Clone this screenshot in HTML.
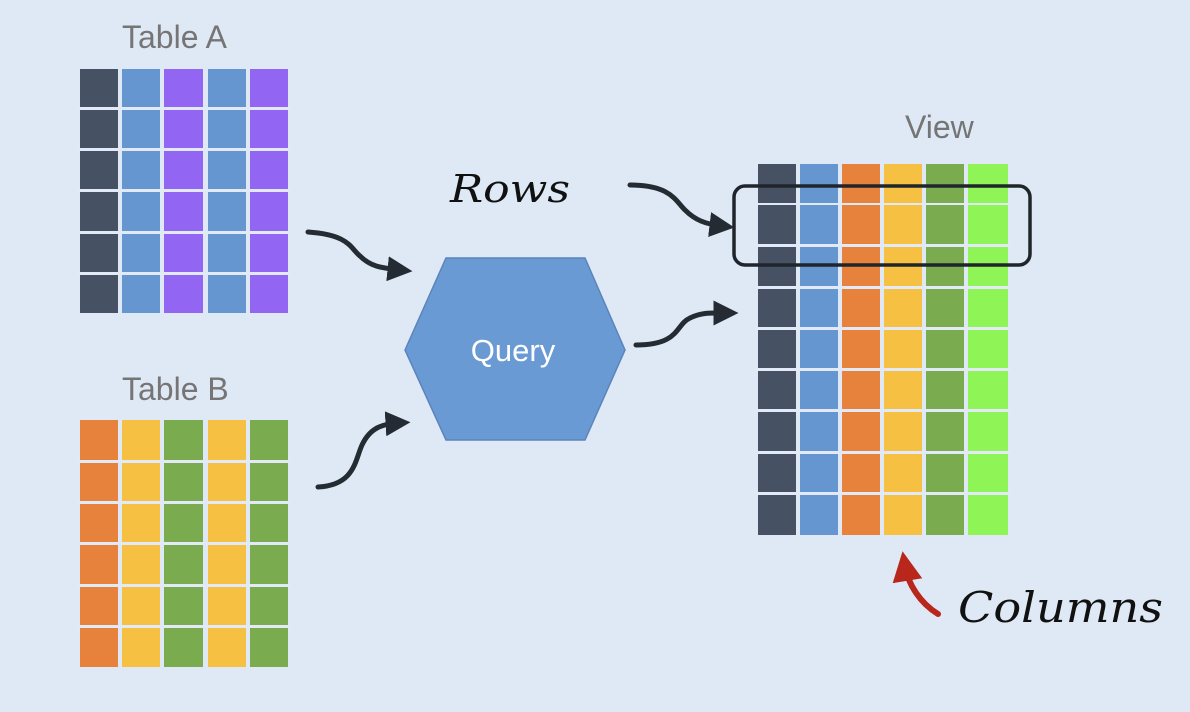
<!DOCTYPE html>
<html><head><meta charset="utf-8"><style>
html,body{margin:0;padding:0;background:#dfe9f5;}
svg{display:block}
</style></head><body>
<svg width="1190" height="712" viewBox="0 0 1190 712" xmlns="http://www.w3.org/2000/svg">
<rect width="1190" height="712" fill="#dfe9f5"/>
<defs>
<marker id="ah" markerWidth="5" markerHeight="5" refX="2.5" refY="2.5" orient="auto" markerUnits="strokeWidth">
<path d="M0,0 L5,2.5 L0,5 z" fill="#252b33"/></marker>
<marker id="ahr" markerWidth="5" markerHeight="5" refX="2.5" refY="2.5" orient="auto" markerUnits="strokeWidth">
<path d="M0,0 L5,2.5 L0,5 z" fill="#b8261c"/></marker>
</defs>
<g font-family="Liberation Sans, sans-serif" fill="#757575" font-size="32">
<text x="122" y="48">Table A</text>
<text x="122" y="400">Table B</text>
<text x="905" y="138">View</text>
</g>
<!-- Table A -->
<g>
<rect x="80" y="69" width="38" height="244" fill="#465264"/>
<rect x="122" y="69" width="38" height="244" fill="#6596d0"/>
<rect x="164" y="69" width="39" height="244" fill="#9266f2"/>
<rect x="208" y="69" width="38" height="244" fill="#6596d0"/>
<rect x="250" y="69" width="38" height="244" fill="#9266f2"/>
<g fill="#e2eaf8">
<rect x="78" y="107" width="212" height="3"/><rect x="78" y="148" width="212" height="3"/><rect x="78" y="189" width="212" height="3"/><rect x="78" y="231" width="212" height="3"/><rect x="78" y="272" width="212" height="3"/>
</g></g>
<!-- Table B -->
<g>
<rect x="80" y="420" width="38" height="247" fill="#e6823c"/>
<rect x="122" y="420" width="38" height="247" fill="#f6c142"/>
<rect x="164" y="420" width="39" height="247" fill="#7aab4f"/>
<rect x="208" y="420" width="38" height="247" fill="#f6c142"/>
<rect x="250" y="420" width="38" height="247" fill="#7aab4f"/>
<g fill="#e2eaf8">
<rect x="78" y="460" width="212" height="3"/><rect x="78" y="501" width="212" height="3"/><rect x="78" y="542" width="212" height="3"/><rect x="78" y="584" width="212" height="3"/><rect x="78" y="625" width="212" height="3"/>
</g></g>
<!-- View -->
<g>
<rect x="758" y="164" width="38" height="371" fill="#465264"/>
<rect x="800" y="164" width="38" height="371" fill="#6596d0"/>
<rect x="842" y="164" width="38" height="371" fill="#e6823c"/>
<rect x="884" y="164" width="38" height="371" fill="#f6c142"/>
<rect x="926" y="164" width="38" height="371" fill="#7aab4f"/>
<rect x="968" y="164" width="40" height="371" fill="#8ff556"/>
<g fill="#e2eaf8">
<rect x="756" y="203" width="254" height="2"/><rect x="756" y="244" width="254" height="3"/><rect x="756" y="286" width="254" height="3"/><rect x="756" y="327" width="254" height="3"/><rect x="756" y="368" width="254" height="3"/><rect x="756" y="409" width="254" height="3"/><rect x="756" y="451" width="254" height="3"/><rect x="756" y="492" width="254" height="3"/>
</g></g>
<rect x="734" y="186" width="296" height="79" rx="11" fill="none" stroke="#20252b" stroke-width="3.5"/>
<!-- Hexagon -->
<polygon points="405,350 446,258 585,258 625,350 585,440 446,440" fill="#6a9ad4" stroke="#5a84bb" stroke-width="1.5"/>
<text x="513" y="361" font-family="Liberation Sans, sans-serif" font-size="31" fill="#ffffff" text-anchor="middle">Query</text>
<!-- Arrows -->
<g fill="none" stroke="#252b33" stroke-width="5" stroke-linecap="round">
<path d="M308,232 C350,235 350,248 360,256 C370,266 380,268 400,270" marker-end="url(#ah)"/>
<path d="M318,487 C355,485 355,460 362,445 C370,428 382,424 398,423" marker-end="url(#ah)"/>
<path d="M636,345 C680,345 675,325 690,318 C702,312 712,313 726,313" marker-end="url(#ah)"/>
<path d="M630,185 C670,185 675,200 685,210 C695,220 705,224 722,226" marker-end="url(#ah)"/>
</g>
<path d="M938,614 C920,603 908,584 905,566" fill="none" stroke="#b8261c" stroke-width="6" stroke-linecap="round" marker-end="url(#ahr)"/>
<g font-family="'URW Chancery L','Z003','DejaVu Serif',serif" font-style="italic" fill="#111">
<text x="450" y="202" font-size="38" textLength="120" lengthAdjust="spacingAndGlyphs">Rows</text>
<text x="958" y="622" font-size="42" textLength="205" lengthAdjust="spacingAndGlyphs">Columns</text>
</g>
</svg>
</body></html>
